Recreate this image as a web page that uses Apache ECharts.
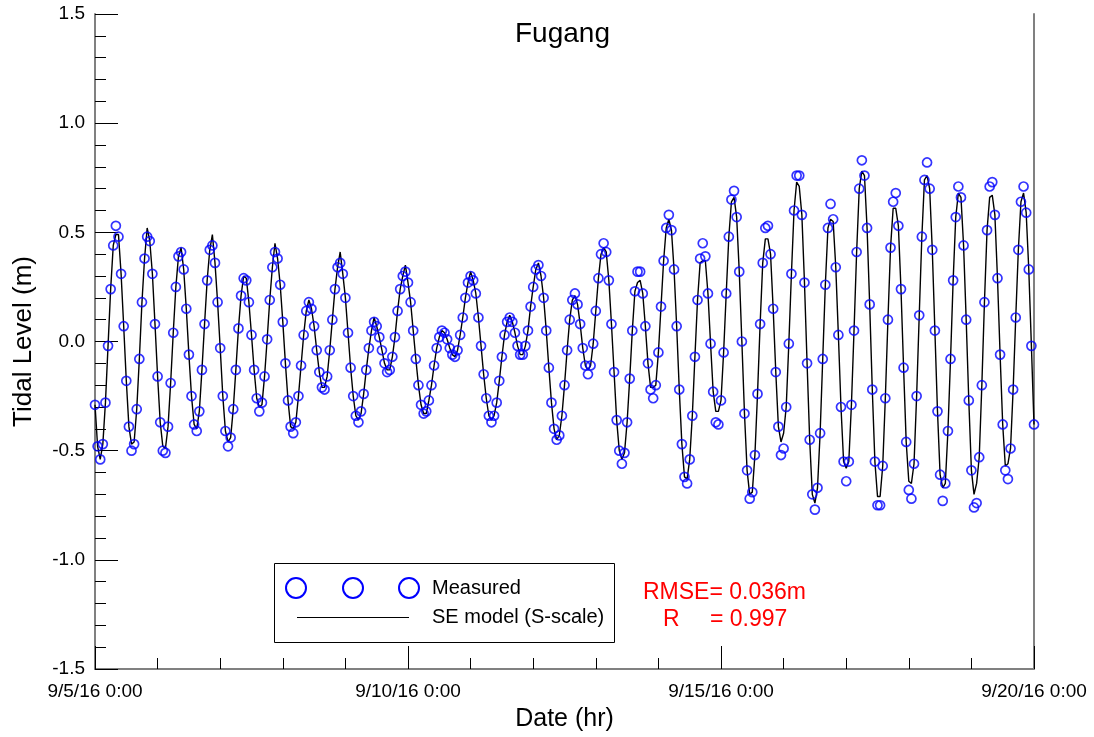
<!DOCTYPE html>
<html>
<head>
<meta charset="utf-8">
<script src="https://cdn.jsdelivr.net/npm/echarts@6/dist/echarts.min.js"></script>
<style>
html,body{margin:0;padding:0;background:#fff;}
#chart{width:1094px;height:737px;}
</style>
</head>
<body>
<div id="chart"></div>
<script>
// Hourly samples from 9/5/16 0:00 (hour 0) to 9/20/16 0:00 (hour 360)
const xTickLabels = ['9/5/16 0:00', '9/10/16 0:00', '9/15/16 0:00', '9/20/16 0:00'];
const yTickLabels = ['-1.5', '-1.0', '-0.5', '0.0', '0.5', '1.0', '1.5'];

const measured = [
-0.29,-0.48,-0.54,-0.47,-0.28,-0.02,0.24,0.44,0.53,0.48,0.31,0.07,-0.18,-0.39,-0.50,-0.47,-0.31,-0.08,0.18,0.38,
0.48,0.46,0.31,0.08,-0.16,-0.37,-0.50,-0.51,-0.39,-0.19,0.04,0.25,0.39,0.41,0.33,0.15,-0.06,-0.25,-0.38,-0.41,
-0.32,-0.13,0.08,0.28,0.42,0.44,0.36,0.18,-0.03,-0.25,-0.41,-0.48,-0.44,-0.31,-0.13,0.06,0.21,0.29,0.28,0.18,
0.03,-0.13,-0.26,-0.32,-0.28,-0.16,0.01,0.19,0.34,0.41,0.38,0.26,0.09,-0.10,-0.27,-0.39,-0.42,-0.37,-0.25,-0.11,
0.03,0.14,0.18,0.15,0.07,-0.04,-0.14,-0.21,-0.22,-0.16,-0.04,0.10,0.24,0.34,0.36,0.31,0.20,0.04,-0.12,-0.25,
-0.34,-0.37,-0.32,-0.24,-0.13,-0.03,0.05,0.09,0.07,0.02,-0.04,-0.10,-0.14,-0.13,-0.07,0.02,0.14,0.24,0.30,0.32,
0.27,0.18,0.05,-0.08,-0.20,-0.29,-0.33,-0.32,-0.27,-0.20,-0.11,-0.03,0.02,0.05,0.04,0.01,-0.03,-0.06,-0.07,-0.04,
0.03,0.11,0.20,0.27,0.30,0.28,0.22,0.11,-0.02,-0.15,-0.26,-0.34,-0.37,-0.34,-0.28,-0.18,-0.07,0.03,0.09,0.11,
0.09,0.04,-0.02,-0.06,-0.06,-0.02,0.05,0.16,0.25,0.33,0.35,0.30,0.20,0.05,-0.12,-0.28,-0.40,-0.45,-0.43,-0.34,
-0.20,-0.04,0.10,0.19,0.22,0.17,0.08,-0.03,-0.11,-0.15,-0.11,-0.01,0.14,0.29,0.40,0.45,0.41,0.28,0.08,-0.14,
-0.36,-0.50,-0.56,-0.51,-0.37,-0.17,0.05,0.23,0.32,0.32,0.22,0.07,-0.10,-0.22,-0.26,-0.20,-0.05,0.16,0.37,0.52,
0.58,0.51,0.33,0.07,-0.22,-0.47,-0.62,-0.65,-0.54,-0.34,-0.07,0.19,0.38,0.45,0.39,0.22,-0.01,-0.23,-0.37,-0.38,
-0.27,-0.05,0.22,0.48,0.65,0.69,0.57,0.32,0.00,-0.33,-0.59,-0.72,-0.69,-0.52,-0.24,0.08,0.36,0.52,0.53,0.40,
0.15,-0.14,-0.39,-0.52,-0.49,-0.30,-0.01,0.31,0.60,0.76,0.76,0.58,0.27,-0.10,-0.45,-0.70,-0.77,-0.67,-0.42,-0.08,
0.26,0.52,0.63,0.56,0.34,0.03,-0.30,-0.55,-0.64,-0.55,-0.29,0.05,0.41,0.70,0.83,0.76,0.52,0.17,-0.22,-0.55,
-0.75,-0.75,-0.57,-0.26,0.10,0.43,0.64,0.68,0.53,0.24,-0.12,-0.46,-0.68,-0.72,-0.56,-0.25,0.12,0.48,0.74,0.82,
0.70,0.42,0.05,-0.32,-0.61,-0.73,-0.65,-0.41,-0.08,0.28,0.57,0.71,0.66,0.44,0.10,-0.27,-0.59,-0.76,-0.74,-0.53,
-0.20,0.18,0.51,0.71,0.73,0.58,0.29,-0.06,-0.38,-0.59,-0.63,-0.49,-0.22,0.11,0.42,0.64,0.71,0.59,0.33,-0.02,
-0.38
];

const model = [
-0.29,-0.48,-0.54,-0.47,-0.28,-0.02,0.24,0.44,0.49,0.49,0.31,0.07,-0.18,-0.39,-0.47,-0.46,-0.31,-0.08,0.18,0.38,
0.52,0.46,0.31,0.08,-0.16,-0.37,-0.48,-0.49,-0.39,-0.19,0.04,0.25,0.39,0.43,0.33,0.15,-0.06,-0.25,-0.38,-0.40,
-0.32,-0.13,0.08,0.28,0.42,0.49,0.36,0.18,-0.03,-0.25,-0.41,-0.46,-0.44,-0.31,-0.13,0.06,0.21,0.30,0.29,0.18,
0.03,-0.13,-0.26,-0.30,-0.29,-0.16,0.01,0.19,0.34,0.45,0.38,0.26,0.09,-0.10,-0.27,-0.39,-0.40,-0.37,-0.25,-0.11,
0.03,0.14,0.19,0.15,0.07,-0.04,-0.14,-0.21,-0.21,-0.16,-0.04,0.10,0.24,0.34,0.41,0.31,0.20,0.04,-0.12,-0.25,
-0.34,-0.36,-0.33,-0.24,-0.13,-0.03,0.05,0.11,0.07,0.02,-0.04,-0.10,-0.13,-0.13,-0.07,0.02,0.14,0.24,0.30,0.35,
0.27,0.18,0.05,-0.08,-0.20,-0.29,-0.33,-0.33,-0.27,-0.20,-0.11,-0.03,0.02,0.05,0.04,0.01,-0.03,-0.06,-0.07,-0.04,
0.03,0.11,0.20,0.27,0.32,0.28,0.22,0.11,-0.02,-0.15,-0.26,-0.34,-0.36,-0.34,-0.28,-0.18,-0.07,0.03,0.09,0.12,
0.09,0.04,-0.02,-0.06,-0.06,-0.02,0.05,0.16,0.25,0.33,0.36,0.30,0.20,0.05,-0.12,-0.28,-0.40,-0.45,-0.43,-0.34,
-0.20,-0.04,0.10,0.19,0.21,0.17,0.08,-0.03,-0.11,-0.13,-0.11,-0.01,0.14,0.29,0.40,0.43,0.41,0.28,0.08,-0.14,
-0.36,-0.50,-0.54,-0.51,-0.37,-0.17,0.05,0.23,0.27,0.28,0.22,0.07,-0.10,-0.21,-0.21,-0.20,-0.05,0.16,0.37,0.52,
0.56,0.51,0.33,0.07,-0.22,-0.47,-0.62,-0.63,-0.54,-0.34,-0.07,0.19,0.36,0.37,0.37,0.22,-0.01,-0.23,-0.32,-0.32,
-0.27,-0.05,0.22,0.48,0.64,0.66,0.57,0.32,0.00,-0.33,-0.59,-0.70,-0.69,-0.52,-0.24,0.08,0.36,0.47,0.47,0.40,
0.15,-0.14,-0.39,-0.46,-0.42,-0.30,-0.01,0.31,0.60,0.73,0.71,0.58,0.27,-0.10,-0.45,-0.70,-0.74,-0.67,-0.42,-0.08,
0.26,0.52,0.56,0.55,0.34,0.03,-0.30,-0.55,-0.58,-0.55,-0.29,0.05,0.41,0.70,0.78,0.76,0.52,0.17,-0.22,-0.55,
-0.71,-0.71,-0.57,-0.26,0.10,0.43,0.61,0.61,0.53,0.24,-0.12,-0.46,-0.64,-0.65,-0.56,-0.25,0.12,0.48,0.74,0.76,
0.70,0.42,0.05,-0.32,-0.61,-0.67,-0.65,-0.41,-0.08,0.28,0.57,0.68,0.66,0.44,0.10,-0.27,-0.59,-0.70,-0.65,-0.53,
-0.20,0.18,0.51,0.66,0.67,0.58,0.29,-0.06,-0.38,-0.57,-0.56,-0.49,-0.22,0.11,0.42,0.64,0.68,0.59,0.33,-0.02,
-0.38
];

const measuredPts = measured.map((v, i) => [i, v]);
const modelPts = model.map((v, i) => [i, v]);

const font = '"Liberation Sans", Arial, sans-serif';
const chart = echarts.init(document.getElementById('chart'), null, {renderer: 'canvas'});

chart.setOption({
  backgroundColor: '#ffffff',
  animation: false,
  title: {
    text: 'Fugang', left: 510, top: 15,
    textStyle: {fontFamily: font, fontSize: 28, fontWeight: 'normal', color: '#000'}
  },
  grid: {left: 95, right: 60, top: 14, bottom: 68, containLabel: false},
  xAxis: {
    type: 'value', min: 0, max: 360, interval: 120,
    name: 'Date (hr)', nameLocation: 'middle', nameGap: 38,
    nameTextStyle: {fontFamily: font, fontSize: 25, color: '#000'},
    axisLine: {show: true, onZero: false, lineStyle: {color: '#808080', width: 2}},
    axisTick: {show: true, inside: true, length: 23, lineStyle: {color: '#000', width: 1}},
    minorTick: {show: true, splitNumber: 5, length: 11, lineStyle: {color: '#000', width: 1}},
    splitLine: {show: false},
    axisLabel: {
      fontFamily: font, fontSize: 19, color: '#000', margin: 13,
      formatter: v => xTickLabels[Math.round(v / 120)]
    }
  },
  yAxis: [{
    type: 'value', min: -1.5, max: 1.5, interval: 0.5,
    name: 'Tidal Level (m)', nameLocation: 'middle', nameGap: 58, nameRotate: 90,
    nameTextStyle: {fontFamily: font, fontSize: 26, color: '#000'},
    axisLine: {show: true, onZero: false, lineStyle: {color: '#808080', width: 2}},
    axisTick: {show: true, inside: true, length: 23, lineStyle: {color: '#000', width: 1}},
    minorTick: {show: true, splitNumber: 5, length: 11, lineStyle: {color: '#000', width: 1}},
    splitLine: {show: false},
    axisLabel: {
      fontFamily: font, fontSize: 19, color: '#000', margin: 10,
      formatter: v => yTickLabels[Math.round((v + 1.5) / 0.5)]
    }
  }, {
    type: 'value', min: -1.5, max: 1.5, position: 'right',
    axisLine: {show: true, onZero: false, lineStyle: {color: '#808080', width: 2}},
    axisTick: {show: false}, axisLabel: {show: false}, splitLine: {show: false}
  }],
  series: [{
    name: 'SE model (S-scale)', type: 'line', data: modelPts,
    showSymbol: false, smooth: false, z: 2,
    lineStyle: {color: '#000', width: 1.4}
  }, {
    name: 'Measured', type: 'scatter', data: measuredPts,
    symbol: 'circle', symbolSize: 9, z: 3,
    itemStyle: {color: 'rgba(0,0,0,0)', borderColor: '#0000ff', borderWidth: 1.7}
  }],
  graphic: [
    {type: 'rect', shape: {x: 274.5, y: 563.5, width: 340, height: 79}, style: {fill: '#fff', stroke: '#000', lineWidth: 1}, z: 10},
    {type: 'circle', shape: {cx: 296, cy: 588, r: 10}, style: {fill: 'none', stroke: '#0000ff', lineWidth: 2}, z: 11},
    {type: 'circle', shape: {cx: 353, cy: 588, r: 10}, style: {fill: 'none', stroke: '#0000ff', lineWidth: 2}, z: 11},
    {type: 'circle', shape: {cx: 409, cy: 588, r: 10}, style: {fill: 'none', stroke: '#0000ff', lineWidth: 2}, z: 11},
    {type: 'text', x: 432, y: 588, style: {text: 'Measured', font: '20px ' + font, fill: '#000', verticalAlign: 'middle'}, z: 11},
    {type: 'line', shape: {x1: 297, y1: 617.5, x2: 409, y2: 617.5}, style: {stroke: '#000', lineWidth: 1}, z: 11},
    {type: 'text', x: 432, y: 617, style: {text: 'SE model (S-scale)', font: '20px ' + font, fill: '#000', verticalAlign: 'middle'}, z: 11},
    {type: 'text', x: 643, y: 593, style: {text: 'RMSE= 0.036m', font: '23px ' + font, fill: '#ff0000', verticalAlign: 'middle'}, z: 11},
    {type: 'text', x: 663, y: 620, style: {text: 'R', font: '23px ' + font, fill: '#ff0000', verticalAlign: 'middle'}, z: 11},
    {type: 'text', x: 710, y: 620, style: {text: '= 0.997', font: '23px ' + font, fill: '#ff0000', verticalAlign: 'middle'}, z: 11}
  ]
});
</script>
</body>
</html>
